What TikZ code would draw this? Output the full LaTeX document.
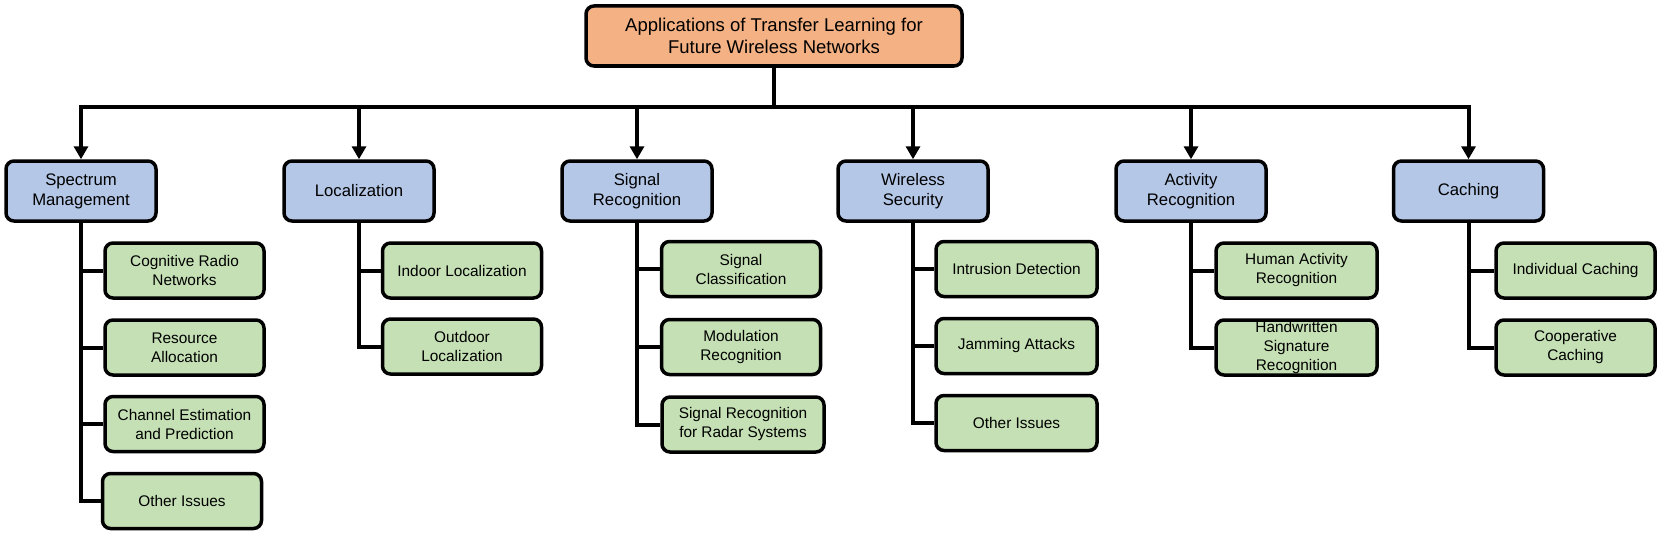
\documentclass[tikz,border=0pt]{standalone}
\usepackage{fontspec}
\setmainfont{Liberation Sans}
\usetikzlibrary{arrows.meta}
\definecolor{rootfill}{RGB}{244,177,131}
\definecolor{catfill}{RGB}{180,199,231}
\definecolor{leaffill}{RGB}{197,224,180}
\tikzset{
  box/.style={draw=black, line width=3.5pt, rounded corners=8pt, align=center, inner sep=0pt},
  rootbox/.style={box, fill=rootfill, minimum width=376pt, minimum height=60pt, font=\fontsize{18.5}{21.5}\selectfont},
  catbox/.style={box, fill=catfill, minimum width=150pt, minimum height=60pt, font=\fontsize{16.7}{20}\selectfont},
  leafbox/.style={box, fill=leaffill, minimum width=159pt, minimum height=55pt, font=\fontsize{15.4}{19}\selectfont},
  conn/.style={line width=4pt},
  arr/.style={line width=4pt, {Triangle[length=13pt,width=14pt]}-{Triangle[length=13pt,width=14pt]}},
  arrone/.style={line width=4pt, -{Triangle[length=13pt,width=14pt]}}
}
\begin{document}
\begin{tikzpicture}[x=1pt,y=-1pt]
\useasboundingbox (0,0) rectangle (1661,535);
% root
\node[rootbox] (root) at (774,36) {Applications of Transfer Learning for\\Future Wireless Networks};
% categories
\node[catbox] (spec) at (81,191) {Spectrum\\Management};
\node[catbox] (loc) at (359,191) {Localization};
\node[catbox] (sig) at (637,191) {Signal\\Recognition};
\node[catbox] (sec) at (913,191) {Wireless\\Security};
\node[catbox] (act) at (1191,191) {Activity\\Recognition};
\node[catbox] (cach) at (1468.5,191) {Caching};
% leaves: spectrum
\node[leafbox] (s1) at (184.5,270.5) {Cognitive Radio\\Networks};
\node[leafbox] (s2) at (184.5,347.5) {Resource\\Allocation};
\node[leafbox] (s3) at (184.5,424) {Channel Estimation\\and Prediction};
\node[leafbox] (s4) at (182,501) {Other Issues};
% localization
\node[leafbox] (l1) at (462,270.5) {Indoor Localization};
\node[leafbox] (l2) at (462,346.5) {Outdoor\\Localization};
% signal
\node[leafbox] (g1) at (741,269) {Signal\\Classification};
\node[leafbox] (g2) at (741,347) {Modulation\\Recognition};
\node[leafbox, minimum width=162pt] (g3) at (743,424.5) {Signal Recognition\\for Radar Systems};
% security
\node[leafbox, minimum width=161pt] (w1) at (1016.5,269) {Intrusion Detection};
\node[leafbox, minimum width=161pt] (w2) at (1016.5,346) {Jamming Attacks};
\node[leafbox, minimum width=161pt] (w3) at (1016.5,423) {Other Issues};
% activity
\node[leafbox, minimum width=161pt] (a1) at (1296.5,270.5) {Human Activity\\Recognition};
\node[leafbox, minimum width=161pt] (a2) at (1296.5,347.5) {Handwritten\\Signature\\Recognition};
% caching
\node[leafbox] (c1) at (1575.5,270.5) {Individual Caching};
\node[leafbox] (c2) at (1575.5,347.5) {Cooperative\\Caching};
% bus
\coordinate (bus) at (0,107);
\draw[conn] (root.south) -- (root.south |- bus);
\draw[arr] (spec.north) -- (spec.north |- bus) -- (cach.north |- bus) -- (cach.north);
\draw[arrone] (loc.north |- bus) -- (loc.north);
\draw[arrone] (sig.north |- bus) -- (sig.north);
\draw[arrone] (sec.north |- bus) -- (sec.north);
\draw[arrone] (act.north |- bus) -- (act.north);
% trunks
\draw[conn] (spec.south) |- (s4.west);
\foreach \n in {s1,s2,s3} \draw[conn] (spec.south |- \n.west) -- (\n.west);
\draw[conn] (loc.south) |- (l2.west);
\draw[conn] (loc.south |- l1.west) -- (l1.west);
\draw[conn] (sig.south) |- (g3.west);
\foreach \n in {g1,g2} \draw[conn] (sig.south |- \n.west) -- (\n.west);
\draw[conn] (sec.south) |- (w3.west);
\foreach \n in {w1,w2} \draw[conn] (sec.south |- \n.west) -- (\n.west);
\draw[conn] (act.south) |- (a2.west);
\draw[conn] (act.south |- a1.west) -- (a1.west);
\draw[conn] (cach.south) |- (c2.west);
\draw[conn] (cach.south |- c1.west) -- (c1.west);
\end{tikzpicture}
\end{document}
